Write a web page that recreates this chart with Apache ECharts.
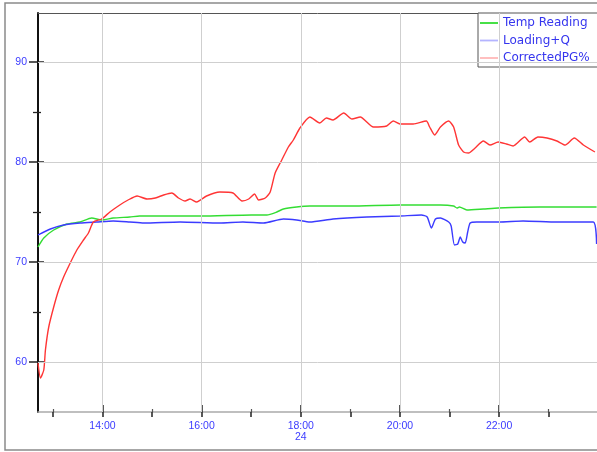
<!DOCTYPE html>
<html>
<head>
<meta charset="utf-8">
<script src="https://cdn.jsdelivr.net/npm/echarts@6/dist/echarts.min.js"></script>
<style>
html,body{margin:0;padding:0;background:#fff;}
#chart{width:597px;height:452px;}
</style>
</head>
<body>
<div id="chart"></div>
<script>
// ---- data ----
const seriesNames = ["Temp Reading", "Loading+Q", "CorrectedPG%"];

const greenTimes = ["12:42","12:49","13:01","13:17","13:33","13:47","13:59","14:13","14:33","14:45","15:13","16:00","17:00","17:19","17:31","17:39","17:55","18:11","19:00","20:00","20:49","21:05","21:09","21:12","21:21","21:41","21:59","22:49","23:58"];
const greenValues = [71.5,72.4,73.2,73.8,74.0,74.4,74.2,74.4,74.5,74.6,74.6,74.6,74.7,74.7,75.0,75.3,75.5,75.6,75.6,75.7,75.7,75.6,75.4,75.5,75.2,75.3,75.4,75.5,75.5];

const blueTimes = ["12:42","12:57","13:13","13:33","13:53","14:13","14:33","14:50","15:34","16:22","16:50","17:15","17:39","17:55","18:11","18:39","19:20","20:00","20:26","20:33","20:38","20:43","20:49","20:59","21:02","21:06","21:10","21:13","21:16","21:19","21:22","21:25","21:33","22:00","22:29","23:10","23:54","23:58"];
const blueValues = [72.7,73.3,73.7,73.9,74.0,74.1,74.0,73.9,74.0,73.9,74.0,73.9,74.3,74.2,74.0,74.3,74.5,74.6,74.7,74.5,73.4,74.3,74.4,74.0,73.6,71.7,71.8,72.5,72.0,71.9,73.0,73.9,74.0,74.0,74.1,74.0,74.0,71.8];

const redTimes = ["12:42","12:45","12:49","12:51","12:55","13:01","13:07","13:13","13:21","13:29","13:37","13:43","13:49","13:59","14:09","14:21","14:31","14:42","14:54","15:04","15:14","15:24","15:32","15:40","15:46","15:54","16:06","16:22","16:38","16:49","16:57","17:04","17:09","17:17","17:23","17:29","17:37","17:45","17:51","17:59","18:11","18:23","18:31","18:39","18:52","19:02","19:12","19:28","19:44","19:52","20:00","20:16","20:32","20:36","20:42","20:49","20:59","21:05","21:11","21:17","21:23","21:31","21:41","21:49","21:59","22:09","22:17","22:31","22:37","22:47","22:58","23:10","23:20","23:31","23:42","23:56"];
const redValues = [59.9,58.4,59.2,61.2,63.5,65.5,67.2,68.5,69.9,71.2,72.2,72.9,74.0,74.3,75.0,75.7,76.2,76.6,76.3,76.4,76.7,76.9,76.4,76.1,76.3,76.0,76.6,77.0,76.9,76.1,76.3,76.8,76.2,76.4,77.0,78.9,80.2,81.5,82.2,83.4,84.5,83.9,84.4,84.2,84.9,84.3,84.5,83.5,83.6,84.1,83.8,83.8,84.1,83.5,82.7,83.5,84.1,83.5,81.7,81.0,80.9,81.4,82.1,81.7,82.0,81.8,81.6,82.5,82.0,82.5,82.4,82.1,81.7,82.4,81.7,81.0];

const xMajorTicks = [14, 16, 18, 20, 22];
const xMinorTicks = [13, 15, 17, 19, 21, 23];
const xAllTicks = [13, 14, 15, 16, 17, 18, 19, 20, 21, 22, 23];
const xDateLabel = { 18: "24" };
const yMajorTicks = [60, 70, 80, 90];
const yMinorTicks = [65, 75, 85];
const xMin = 12.7, xMax = 23.975;
const yMin = 55, yMax = 94.9;

// ---- build ----
function toHours(t) { const p = t.split(":"); return (+p[0]) + (+p[1]) / 60; }
function pairs(times, values) { return times.map((t, i) => [toHours(t), values[i]]); }

const labelBlue = "#3b3bff";
const tickColor = "#222";
const gridColor = "#cfcfcf";

function xAxisBase(extra) {
  return Object.assign({
    type: "value", min: xMin, max: xMax, gridIndex: 0, position: "bottom",
    axisLine: { show: false, onZero: false },
    axisTick: { show: false },
    axisLabel: { show: false },
    splitLine: { show: false }
  }, extra);
}
function yAxisBase(extra) {
  return Object.assign({
    type: "value", min: yMin, max: yMax, gridIndex: 0, position: "left",
    axisLine: { show: false, onZero: false },
    axisTick: { show: false },
    axisLabel: { show: false },
    splitLine: { show: false }
  }, extra);
}

const legendLine = "path://M0,0 L20,0 L20,2 L0,2 Z";

const option = {
  backgroundColor: "#fff",
  animation: false,
  graphic: [{
    type: "rect", z: -10, silent: true,
    shape: { x: 5, y: 3, width: 600, height: 447 },
    style: { fill: "none", stroke: "#8a8a8a", lineWidth: 1.5 }
  }],
  grid: { left: 38, top: 13, right: 0, bottom: 40, containLabel: false },
  legend: {
    orient: "vertical", left: 478, top: 13,
    padding: [3, 8, 2, 2], itemGap: 3.5, itemWidth: 18, itemHeight: 2,
    backgroundColor: "#fff", borderColor: "#555", borderWidth: 1,
    textStyle: { fontFamily: "DejaVu Sans", fontSize: 12, color: "#3535ee", lineHeight: 14 },
    data: [
      { name: seriesNames[0], icon: legendLine, itemStyle: { color: "#33dd33" } },
      { name: seriesNames[1], icon: legendLine, itemStyle: { color: "#b4b4ff" } },
      { name: seriesNames[2], icon: legendLine, itemStyle: { color: "#ffb8b8" } }
    ]
  },
  xAxis: [
    xAxisBase({
      axisLine: { show: true, onZero: false, lineStyle: { color: "#aaaaaa", width: 1.5 } },
      axisTick: { show: true, inside: true, length: 7, customValues: xMajorTicks, lineStyle: { color: tickColor, width: 1.5 } },
      axisLabel: {
        show: true, customValues: xMajorTicks, margin: 9,
        color: labelBlue, fontFamily: "Liberation Sans", fontSize: 10.5, lineHeight: 11,
        formatter: v => { const h = Math.round(v); return h + ":00" + (xDateLabel[h] ? "\n" + xDateLabel[h] : ""); }
      }
    }),
    xAxisBase({
      axisTick: { show: true, inside: false, length: 5, customValues: xAllTicks, lineStyle: { color: tickColor, width: 1.5 } }
    }),
    xAxisBase({
      axisTick: { show: true, inside: true, length: 3, customValues: xMinorTicks, lineStyle: { color: "#555", width: 1.2 } }
    }),
    xAxisBase({
      position: "top",
      axisLine: { show: true, onZero: false, lineStyle: { color: "#555", width: 1 } }
    })
  ],
  yAxis: [
    yAxisBase({
      axisLine: { show: true, onZero: false, lineStyle: { color: "#111", width: 2 } },
      axisTick: { show: true, inside: false, length: 9, customValues: yMajorTicks, lineStyle: { color: tickColor, width: 1.5 } },
      axisLabel: { show: true, customValues: yMajorTicks, margin: 11, color: labelBlue, fontFamily: "Liberation Sans", fontSize: 10.5 }
    }),
    yAxisBase({
      axisTick: { show: true, inside: true, length: 6, customValues: yMajorTicks, lineStyle: { color: tickColor, width: 1.5 } }
    }),
    yAxisBase({
      axisTick: { show: true, inside: false, length: 5, customValues: yMinorTicks, lineStyle: { color: tickColor, width: 1.3 } }
    }),
    yAxisBase({
      axisTick: { show: true, inside: true, length: 3, customValues: yMinorTicks, lineStyle: { color: tickColor, width: 1.3 } }
    })
  ],
  series: [
    {
      type: "line", name: "__grid", data: [], z: 1, silent: true, legendHoverLink: false,
      markLine: {
        silent: true, symbol: ["none", "none"], animation: false,
        label: { show: false },
        lineStyle: { color: gridColor, type: "solid", width: 1 },
        data: yMajorTicks.map(v => ({ yAxis: v })).concat(xMajorTicks.map(v => ({ xAxis: v })))
      }
    },
    {
      type: "line", name: seriesNames[0], data: pairs(greenTimes, greenValues),
      symbol: "none", smooth: 0.2, z: 3,
      lineStyle: { color: "#33dd33", width: 1.4 }, itemStyle: { color: "#33dd33" }
    },
    {
      type: "line", name: seriesNames[1], data: pairs(blueTimes, blueValues),
      symbol: "none", smooth: 0.2, z: 3,
      lineStyle: { color: "#3b3bff", width: 1.4 }, itemStyle: { color: "#3b3bff" }
    },
    {
      type: "line", name: seriesNames[2], data: pairs(redTimes, redValues),
      symbol: "none", smooth: 0.2, z: 3,
      lineStyle: { color: "#ff3535", width: 1.4 }, itemStyle: { color: "#ff3535" }
    }
  ]
};

const chart = echarts.init(document.getElementById("chart"), null, { renderer: "canvas" });
chart.setOption(option);
</script>
</body>
</html>
